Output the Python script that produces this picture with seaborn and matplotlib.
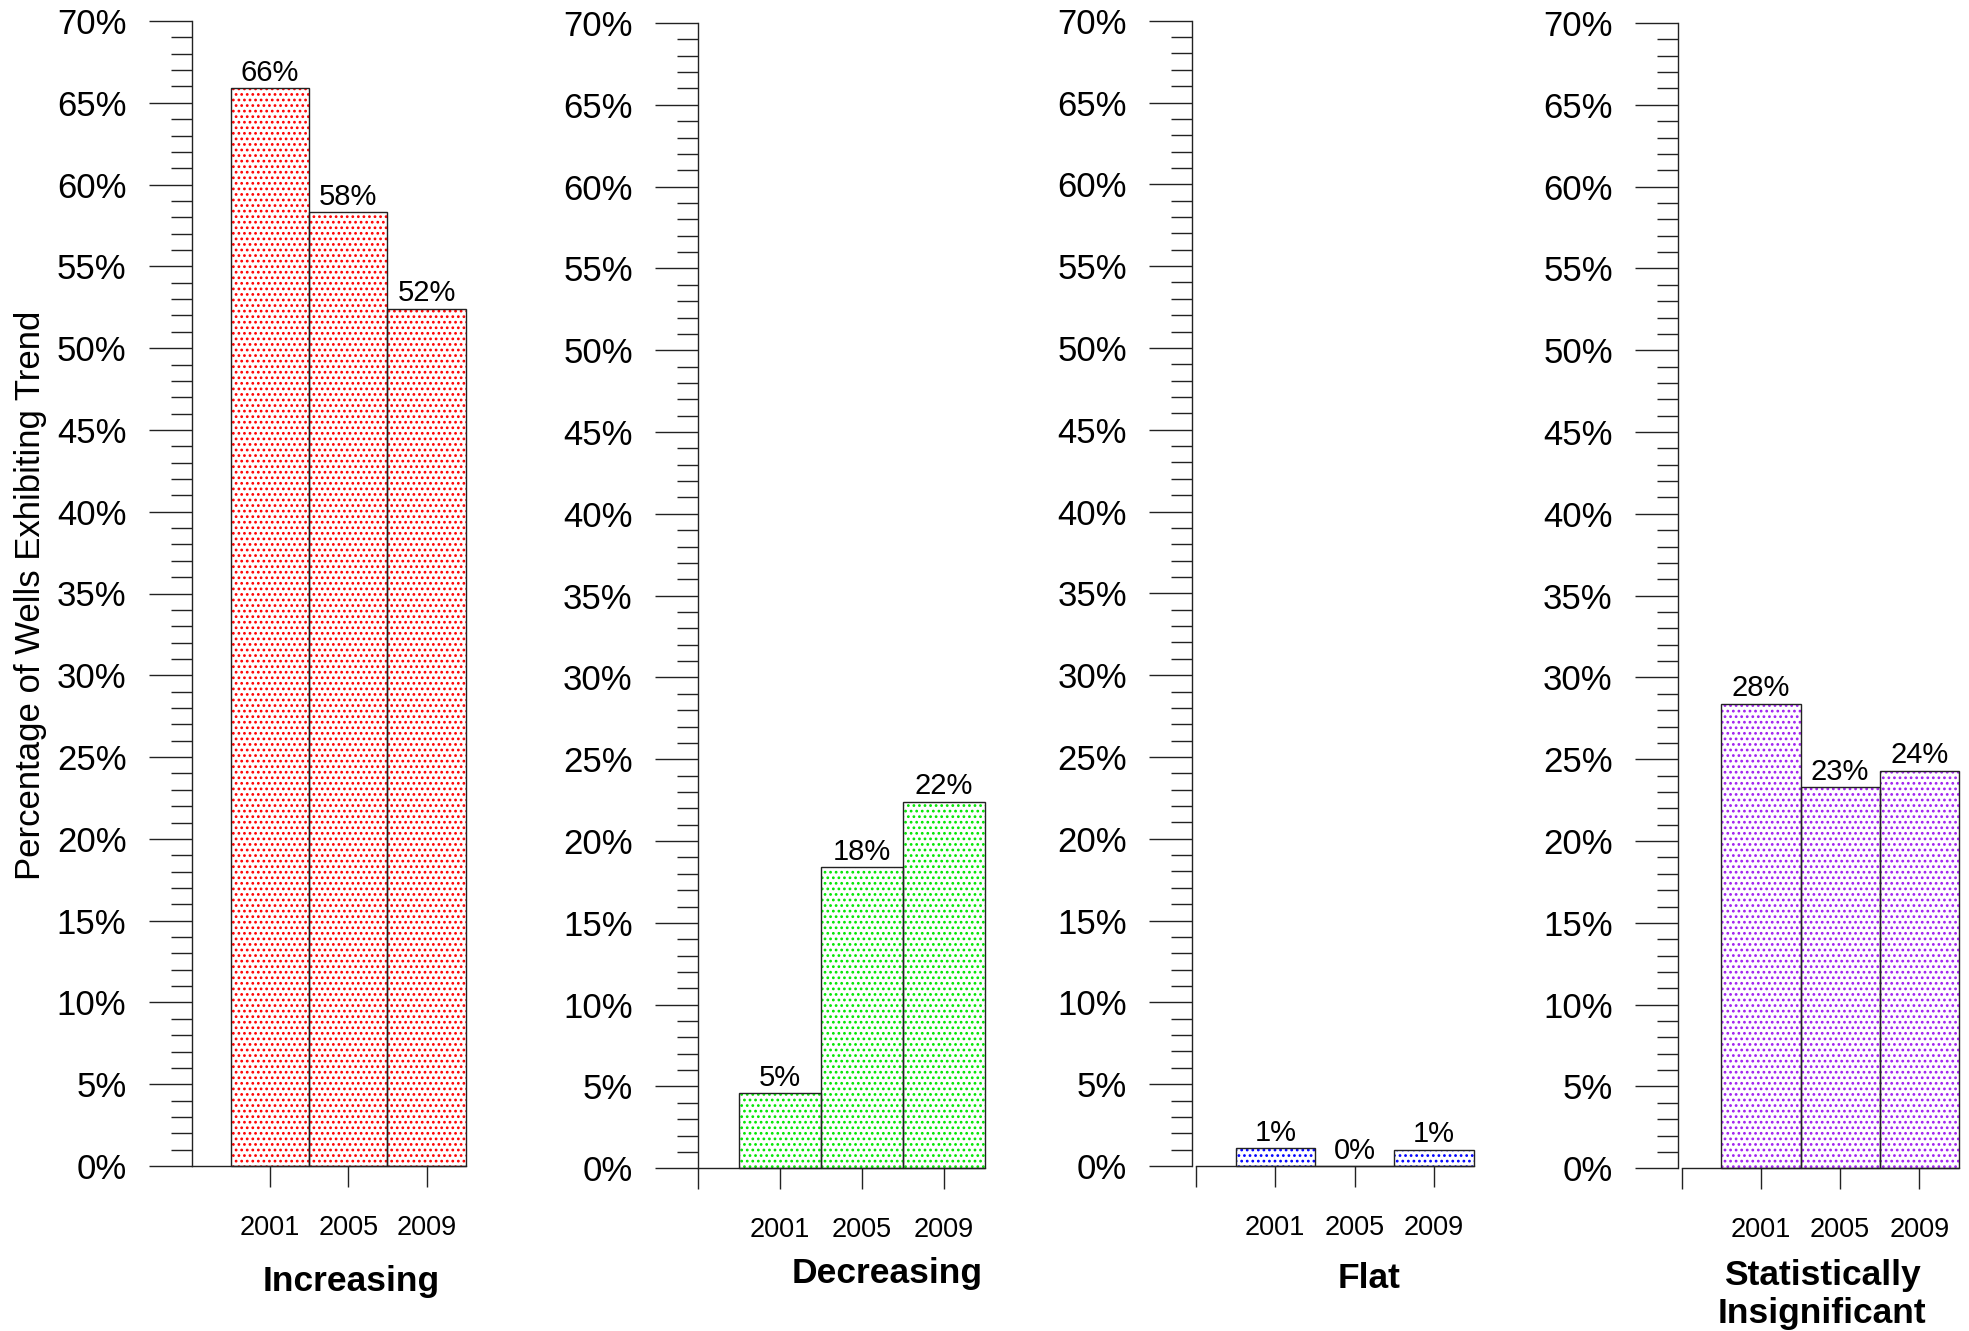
import numpy as np
import pandas as pd
import seaborn as sns
import matplotlib.pyplot as plt

# data
years = ["2001", "2005", "2009"]
trends = ["Increasing", "Decreasing", "Flat", "Statistically\nInsignificant"]
increasing = [65.9, 58.3, 52.4]
decreasing = [4.6, 18.4, 22.4]
flat = [1.1, 0.0, 1.0]
insignificant = [28.4, 23.3, 24.3]
hatch_colors = ["#ff0000", "#00e600", "#0000ff", "#a020f0"]
y_label = "Percentage of Wells Exhibiting Trend"

# layout in pixels of the 1969x1331 canvas:
# (y-axis x, x-axis start, x-axis end, y of 0%, y of 70%)
W, H = 1969, 1331
panels_px = [
    (191.7, 191.7, 465.7, 1166.0, 21.0),
    (698.0, 698.0, 985.0, 1168.3, 23.0),
    (1192.3, 1196.0, 1473.5, 1166.0, 20.7),
    (1678.0, 1681.7, 1959.0, 1168.3, 23.0),
]
title_px = [(351, 1291), (887, 1283), (1369, 1288), (1822, 1285)]
line_color = "#222222"

sns.set_style("ticks")
plt.rcParams["font.family"] = ["Liberation Sans", "DejaVu Sans"]
plt.rcParams["hatch.linewidth"] = 1.2
plt.rcParams["text.color"] = "black"
plt.rcParams["xtick.labelcolor"] = "black"
plt.rcParams["ytick.labelcolor"] = "black"

fig = plt.figure(figsize=(W / 100, H / 100), dpi=100)
series = [increasing, decreasing, flat, insignificant]

for i, (vals, color) in enumerate(zip(series, hatch_colors)):
    yx, x0, x1, y0, y70 = panels_px[i]
    unit = (x1 - x0) / 3.5
    ax = fig.add_axes([yx / W, 1 - y0 / H, (x1 - yx) / W, (y0 - y70) / H])
    df = pd.DataFrame({"year": years, "pct": vals})

    # hatched fill, then a dark outline on top
    sns.barplot(data=df, x="year", y="pct", order=years, width=1,
                color="white", saturation=1, errorbar=None, ax=ax)
    sns.barplot(data=df, x="year", y="pct", order=years, width=1,
                color="white", saturation=1, errorbar=None, ax=ax)
    for j, p in enumerate(ax.patches):
        if j < 3:
            p.set_facecolor("white")
            p.set_edgecolor(color)
            p.set_hatch("...")
            p.set_linewidth(0)
        else:
            p.set_facecolor("none")
            p.set_edgecolor(line_color)
            p.set_linewidth(1.0)
            p.set_clip_on(False)

    ax.bar_label(ax.containers[1], labels=[f"{v:.0f}%" for v in vals],
                 padding=1, fontsize=21, color="black")

    ax.set_xlim(-1 - (x0 - yx) / unit, 2.5)
    ax.set_ylim(0, 70)
    ax.patch.set_alpha(0)
    sns.despine(ax=ax)
    ax.spines["bottom"].set_bounds(-1, 2.5)
    for s in ["left", "bottom"]:
        ax.spines[s].set_color(line_color)
        ax.spines[s].set_linewidth(1.0)

    ax.set_yticks(np.arange(0, 71, 5))
    ax.set_yticks(np.arange(0, 71, 1), minor=True)
    ax.set_yticklabels([f"{t}%" for t in range(0, 71, 5)])
    ax.tick_params(axis="y", which="major", length=31, width=1, pad=16,
                   labelsize=25, color=line_color, labelcolor="black")
    ax.tick_params(axis="y", which="minor", length=15, width=1, color=line_color)

    if i == 0:
        ax.set_xticks([0, 1, 2], years)
    else:
        ax.set_xticks([-1, 0, 1, 2], [""] + years)
    ax.tick_params(axis="x", length=15, width=1, pad=20, labelsize=19.5,
                   color=line_color, labelcolor="black")
    ax.set_xlabel("")
    ax.set_ylabel("")

    tx, ty = title_px[i]
    for k, line in enumerate(trends[i].split("\n")):
        fig.text(tx / W, 1 - (ty + 38 * k) / H, line, ha="center",
                 va="baseline", fontsize=25.5, fontweight="bold", color="black")

fig.text(31 / W, 1 - 595 / H, y_label, rotation=90, ha="center",
         va="center", fontsize=25, color="black")

fig.savefig("out.png", dpi=100)
